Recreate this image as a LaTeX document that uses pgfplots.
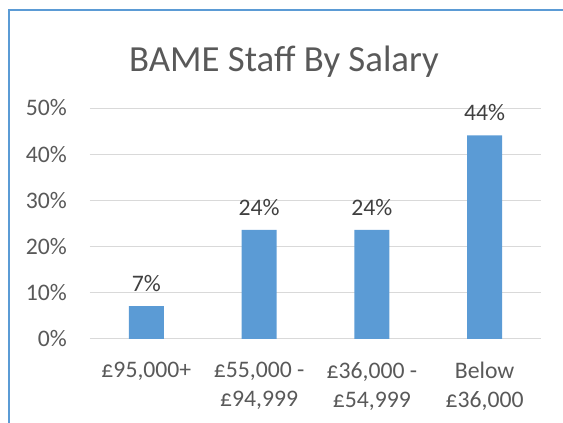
\documentclass[border=0pt]{standalone}
\usepackage{fontspec}
\setmainfont{Carlito}
\usepackage{pgfplots}
\pgfplotsset{compat=1.18}
\definecolor{barblue}{HTML}{5B9BD5}
\definecolor{txt}{HTML}{595959}
\definecolor{lbl}{HTML}{404040}
\definecolor{gridc}{HTML}{D9D9D9}
\begin{document}
\begin{tikzpicture}[x=1pt,y=1pt]
\useasboundingbox (0,0) rectangle (563,423);
\begin{scope}
\clip (0,0) rectangle (563,423);
\draw[barblue, line width=1.5pt] (9,-5) -- (9,413) -- (580,413);
\end{scope}
\node[anchor=base, text=txt, inner sep=0pt, font=\fontsize{36.8}{44}\selectfont] at (284,351) {BAME Staff By Salary};
\begin{axis}[
  at={(90pt,84pt)}, anchor=south west,
  scale only axis, width=451pt, height=231pt,
  xmin=-0.5, xmax=3.5, ymin=0, ymax=50,
  ytick={0,10,20,30,40,50},
  /pgf/number format/assume math mode=true,
  yticklabel={\pgfmathprintnumber{\tick}\%},
  ymajorgrids, grid style={gridc, line width=1pt},
  axis line style={draw=none},
  major tick length=0pt,
  xtick=data,
  xticklabels={{£95,000+},{£55,000 -\\£94,999},{£36,000 -\\£54,999},{Below\\£36,000}},
  xticklabel style={anchor=north, inner sep=0pt, yshift=-23pt, align=center, text=txt, font=\fontsize{23.7}{29}\selectfont},
  yticklabel style={anchor=east, inner sep=0pt, xshift=-23pt, text=txt, font=\fontsize{23.7}{29}\selectfont},
  ybar, bar width=35pt,
  nodes near coords={\pgfmathprintnumber[fixed,precision=0]{\pgfplotspointmeta}\%},
  nodes near coords style={anchor=south, inner sep=0pt, yshift=14pt, text=lbl, font=\fontsize{23.7}{29}\selectfont},
  clip=false,
]
\addplot[fill=barblue, draw=none] coordinates {(0,7.1) (1,23.6) (2,23.6) (3,44.1)};
\end{axis}
\end{tikzpicture}
\end{document}
